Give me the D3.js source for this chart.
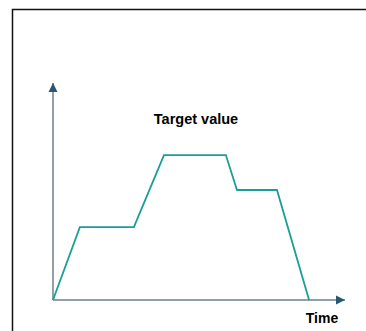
<!DOCTYPE html>
<html>
<head>
<meta charset="utf-8">
<script src="https://d3js.org/d3.v7.min.js"></script>
<style>
  body { margin: 0; background: #fff; }
  svg { display: block; }
  text { font-family: "Liberation Sans", Arial, sans-serif; font-weight: bold; fill: #000; }
</style>
</head>
<body>
<svg id="chart" width="366" height="331"></svg>
<script>
// target value profile over time (unitless, 0-100 on both axes)
var times  = [0, 9.2, 27.7, 38, 59.2, 63, 76.7, 87.7];
var values = [0, 33.6, 33.6, 66.8, 66.8, 50.7, 50.7, 0];
var labels = ["Target value", "Time"];

var svg = d3.select("#chart");

var x = d3.scaleLinear().domain([0, 100]).range([53, 345]);
var y = d3.scaleLinear().domain([0, 100]).range([300, 83]);

// frame (top + left only)
svg.append("path")
  .attr("d", "M12.5,331V9.5H366")
  .attr("fill", "none")
  .attr("stroke", "#111")
  .attr("stroke-width", 1.5);

var defs = svg.append("defs");
defs.append("marker")
  .attr("id", "arrow")
  .attr("viewBox", "0 0 10 10")
  .attr("refX", 10).attr("refY", 5)
  .attr("markerWidth", 9).attr("markerHeight", 10)
  .attr("markerUnits", "userSpaceOnUse")
  .attr("orient", "auto")
  .append("path")
  .attr("d", "M0,0L10,5L0,10Z")
  .attr("fill", "#2b5673");

// axes
svg.append("line")
  .attr("x1", x(0)).attr("y1", y(0))
  .attr("x2", x(0)).attr("y2", y(100))
  .attr("stroke", "#8fa1ab").attr("stroke-width", 2)
  .attr("marker-end", "url(#arrow)");

svg.append("line")
  .attr("x1", x(0)).attr("y1", y(0))
  .attr("x2", x(100)).attr("y2", y(0))
  .attr("stroke", "#8fa1ab").attr("stroke-width", 2)
  .attr("marker-end", "url(#arrow)");

// profile line
var line = d3.line()
  .x(function(d, i) { return x(times[i]); })
  .y(function(d) { return y(d); });

svg.append("path")
  .datum(values)
  .attr("d", line)
  .attr("fill", "none")
  .attr("stroke", "#1a9e95")
  .attr("stroke-width", 1.8)
  .attr("stroke-linejoin", "miter");

// labels
svg.append("text")
  .attr("x", 196).attr("y", 124)
  .attr("text-anchor", "middle")
  .attr("font-size", 14.5)
  .text(labels[0]);

svg.append("text")
  .attr("x", 322).attr("y", 323)
  .attr("text-anchor", "middle")
  .attr("font-size", 14)
  .text(labels[1]);
</script>
</body>
</html>
